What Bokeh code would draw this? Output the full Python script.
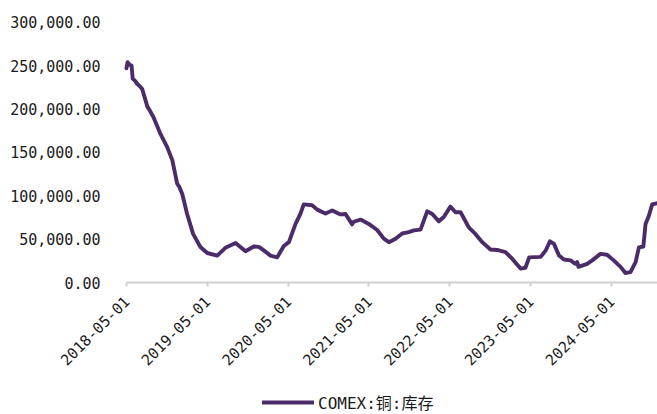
import math
import pandas as pd
from bokeh.plotting import figure
from bokeh.models import (Range1d, FixedTicker, NumeralTickFormatter, DatetimeAxis,
                          LinearAxis, DatetimeTickFormatter, Legend, LegendItem,
                          ColumnDataSource)
from bokeh.embed import file_html
from bokeh.resources import INLINE

# COMEX copper warehouse stocks (short tons)
dates = [
    "2018-05-01", "2018-05-06", "2018-05-14", "2018-05-24", "2018-05-29", "2018-06-10",
    "2018-06-18", "2018-07-01", "2018-07-11", "2018-08-03", "2018-08-15", "2018-09-01",
    "2018-10-02", "2018-11-01", "2018-11-24", "2018-12-16", "2018-12-26", "2019-01-08",
    "2019-01-30", "2019-02-26", "2019-03-31", "2019-05-01", "2019-06-15", "2019-07-22",
    "2019-09-06", "2019-10-21", "2019-11-27", "2019-12-20", "2020-01-04", "2020-02-11",
    "2020-03-12", "2020-04-11", "2020-05-04", "2020-06-03", "2020-06-25", "2020-07-10",
    "2020-08-17", "2020-09-09", "2020-10-16", "2020-11-16", "2020-12-23", "2021-01-15",
    "2021-02-14", "2021-02-21", "2021-03-24", "2021-04-30", "2021-06-07", "2021-07-07",
    "2021-07-30", "2021-08-29", "2021-09-28", "2021-10-28", "2021-11-20", "2021-12-20",
    "2022-01-19", "2022-02-11", "2022-03-13", "2022-04-04", "2022-05-04", "2022-05-27",
    "2022-06-19", "2022-07-26", "2022-08-25", "2022-09-25", "2022-11-01", "2022-12-01",
    "2023-01-08", "2023-02-07", "2023-03-17", "2023-04-08", "2023-04-25", "2023-06-16",
    "2023-07-09", "2023-07-28", "2023-08-15", "2023-09-07", "2023-09-29", "2023-10-29",
    "2023-11-20", "2023-11-28", "2023-12-04", "2024-01-12", "2024-02-04", "2024-03-12",
    "2024-04-11", "2024-05-11", "2024-06-11", "2024-07-03", "2024-07-26", "2024-08-18",
    "2024-09-02", "2024-09-22", "2024-10-02", "2024-10-17", "2024-11-01", "2024-11-25",
]
stocks = [
    247000, 254000, 251000, 250000, 235000, 232000,
    229000, 226000, 223000, 203000, 198000, 190000,
    171000, 156000, 141000, 114000, 110000, 102000,
    79000, 56000, 41000, 34000, 31000, 40000,
    45500, 36000, 41500, 41000, 38500, 31000,
    29000, 42000, 46500, 67500, 79000, 90000,
    89000, 84000, 79500, 83000, 78500, 79000,
    67000, 70000, 72500, 67500, 60500, 50500,
    46500, 50500, 56500, 58000, 60000, 61000,
    82000, 79000, 70500, 75500, 87500, 81000,
    81000, 63500, 56000, 46500, 38000, 37500,
    35000, 27500, 16000, 17000, 29000, 29500,
    37000, 47500, 44500, 31000, 26500, 25500,
    21500, 23500, 18000, 21500, 25500, 33000,
    32000, 25500, 18000, 11000, 12000, 23500,
    40500, 41500, 67500, 77000, 90000, 91500,
]
series_name = "COMEX:铜:库存"

x_tick_dates = ["2018-05-01", "2019-05-01", "2020-05-01", "2021-05-01",
                "2022-05-01", "2023-05-01", "2024-05-01"]
y_ticks = [0, 50000, 100000, 150000, 200000, 250000, 300000]

W, H = 657, 414
# the plotting frame fills the whole canvas; axes are pinned inside it,
# so the ranges are widened to leave room for the tick labels and legend
PLOT_LEFT, PLOT_TOP, PLOT_BOTTOM = 126, 21.7, 282
x_first = pd.Timestamp(x_tick_dates[0])
x_last = pd.Timestamp("2024-11-25")
x_start = x_first - (x_last - x_first) * PLOT_LEFT / (W - PLOT_LEFT)
y_max = y_ticks[-1]
units_per_px = y_max / (PLOT_BOTTOM - PLOT_TOP)
y_top = y_max + PLOT_TOP * units_per_px
y_bottom = -(H - PLOT_BOTTOM) * units_per_px

LINE_COLOR = "#4B2C68"
AXIS_COLOR = "#D0D0D0"
TEXT_COLOR = "#1A1A1A"
MONO = "'DejaVu Sans Mono', 'Noto Sans CJK SC'"

source = ColumnDataSource(dict(date=pd.to_datetime(dates), value=stocks))

p = figure(width=W, height=H, x_axis_type="datetime",
           x_axis_location=None, y_axis_location=None,
           output_backend="svg", toolbar_location=None,
           x_range=Range1d(x_start, x_last), y_range=Range1d(y_bottom, y_top),
           min_border=0)
p.outline_line_color = None
p.background_fill_color = "white"
p.border_fill_color = "white"
p.xgrid.visible = False
p.ygrid.visible = False

line = p.line("date", "value", source=source, line_color=LINE_COLOR,
              line_width=3.9, line_join="round", line_cap="round")

# value axis at the first date: labels only
ya = LinearAxis(fixed_location=x_first.value / 1e6)
ya.ticker = FixedTicker(ticks=y_ticks)
ya.formatter = NumeralTickFormatter(format="0,0.00")
ya.axis_line_color = None
ya.major_tick_line_color = None
ya.minor_tick_line_color = None
ya.major_tick_out = 0
ya.major_tick_in = 0
ya.major_label_standoff = 26
ya.major_label_text_font = MONO
ya.major_label_text_font_size = "15px"
ya.major_label_text_color = TEXT_COLOR
p.add_layout(ya, "left")

# date axis at zero: light baseline with short ticks, rotated date labels
xa = DatetimeAxis(fixed_location=0, bounds=(x_first, x_last))
xa.ticker = FixedTicker(ticks=[pd.Timestamp(d).value / 1e6 for d in x_tick_dates])
xa.formatter = DatetimeTickFormatter(days="%Y-%m-%d", months="%Y-%m-%d",
                                     years="%Y-%m-%d", hours="%Y-%m-%d")
xa.axis_line_color = AXIS_COLOR
xa.axis_line_width = 2
xa.major_tick_line_color = AXIS_COLOR
xa.major_tick_line_width = 2
xa.major_tick_out = 4
xa.major_tick_in = 0
xa.minor_tick_line_color = None
xa.major_label_orientation = math.pi / 4
xa.major_label_standoff = 12
xa.major_label_text_font = MONO
xa.major_label_text_font_size = "15px"
xa.major_label_text_color = TEXT_COLOR
p.add_layout(xa, "below")

legend = Legend(items=[LegendItem(label=series_name, renderers=[line])],
                location=(262, 0), orientation="horizontal",
                glyph_width=52, glyph_height=16, label_standoff=4,
                padding=0, margin=0, spacing=0,
                border_line_color=None, background_fill_alpha=0,
                label_text_font=MONO, label_text_font_size="16px",
                label_text_color=TEXT_COLOR)
p.add_layout(legend, "center")

open("out.html", "w").write(file_html(p, INLINE))
